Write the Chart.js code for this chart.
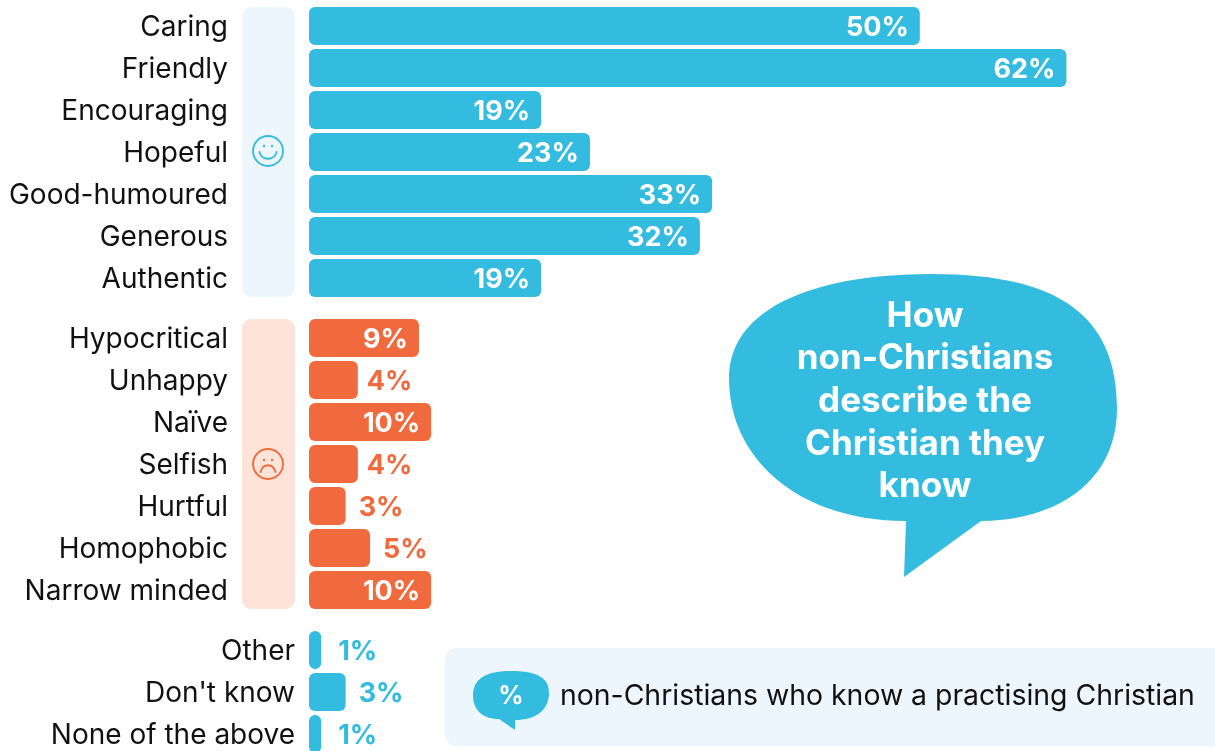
<!DOCTYPE html>
<html>
<head>
<meta charset="utf-8">
<title>How non-Christians describe the Christian they know</title>
<script src="https://cdn.jsdelivr.net/npm/chart.js@4"></script>
<style>
  html, body { margin: 0; padding: 0; background: #fff; overflow: hidden; }
  #page { position: relative; width: 1215px; height: 751px; overflow: hidden; font-family: Inter, sans-serif; }
  #page canvas { position: absolute; left: 0; }
  .panel { position: absolute; left: 242px; width: 53px; height: 290px; border-radius: 9px; }
  #panelGood { top: 7px; background: #edf6fc; }
  #panelBad { top: 319px; background: #fde3d8; }
  #note { position: absolute; left: 445px; top: 648px; width: 790px; height: 98px; border-radius: 12px; background: #edf6fc; }
  #art { position: absolute; left: 0; top: 0; }
</style>
</head>
<body>
<div id="page">
  <div class="panel" id="panelGood"></div>
  <div class="panel" id="panelBad"></div>
  <div id="note"></div>
  <canvas id="goodChart" width="1215" height="294" style="top:5px"></canvas>
  <canvas id="badChart" width="1215" height="294" style="top:317px"></canvas>
  <canvas id="otherChart" width="1215" height="126" style="top:629px"></canvas>
  <svg id="art" width="1215" height="751" xmlns="http://www.w3.org/2000/svg">
    <!-- smiley -->
    <g fill="none" stroke="#33bce0" stroke-width="1.8" stroke-linecap="round">
      <circle cx="268" cy="151" r="15"/>
      <path d="M259.5 152 C261 161 275 161 276.5 152"/>
    </g>
    <circle cx="264" cy="146" r="1.2" fill="#33bce0"/>
    <circle cx="272" cy="146" r="1.2" fill="#33bce0"/>
    <!-- sad face -->
    <g fill="none" stroke="#f16a3e" stroke-width="1.8" stroke-linecap="round">
      <circle cx="268" cy="464" r="15"/>
      <path d="M260.5 472 C263 463 273 463 275.5 472"/>
    </g>
    <circle cx="264" cy="460" r="1.2" fill="#f16a3e"/>
    <circle cx="272" cy="460" r="1.2" fill="#f16a3e"/>
    <!-- big speech bubble -->
    <path fill="#33bce0" d="M906 521 L904 577 L981 521 C1060 520 1117 480 1117 408 C1117 310 1050 274 932 274 C810 274 729 310 729 378 C729 460 800 521 906 521 Z"/>
    <g fill="#fff" font-family="Inter, sans-serif" font-weight="700" font-size="35" text-anchor="middle">
      <text x="925" y="327">How</text>
      <text x="925" y="369">non-Christians</text>
      <text x="925" y="412">describe the</text>
      <text x="925" y="455">Christian they</text>
      <text x="925" y="497">know</text>
    </g>
    <!-- legend bubble -->
    <path fill="#33bce0" d="M499 719 L515 730 L515 720 C536 720 549 710 549 693 C549 678 538 671 510 671 C484 671 473 680 473 696 C473 710 483 719 499 719 Z"/>
    <text x="511" y="704" fill="#fff" font-family="Inter, sans-serif" font-weight="700" font-size="25" text-anchor="middle">%</text>
    <text x="560" y="705" fill="#111" font-family="Inter, sans-serif" font-size="28.4">non-Christians who know a practising Christian</text>
  </svg>
</div>
<script>
const goodLabels = ["Caring", "Friendly", "Encouraging", "Hopeful", "Good-humoured", "Generous", "Authentic"];
const goodValues = [50, 62, 19, 23, 33, 32, 19];

const badLabels = ["Hypocritical", "Unhappy", "Naïve", "Selfish", "Hurtful", "Homophobic", "Narrow minded"];
const badValues = [9, 4, 10, 4, 3, 5, 10];

const otherLabels = ["Other", "Don't know", "None of the above"];
const otherValues = [1, 3, 1];

const BLUE = "#33bce0";
const ORANGE = "#f16a3e";
const INK = "#111";

// the bars too short to hold their number get it beside them instead
const insideFrom = 9;

const barLabels = {
  id: "barLabels",
  // axis text sits a little under the bar centre, scales draw between these two hooks
  beforeDraw(chart) {
    chart.ctx.save();
    chart.ctx.translate(0, 2);
  },
  beforeDatasetsDraw(chart) {
    chart.ctx.restore();
  },
  afterDatasetsDraw(chart) {
    const ctx = chart.ctx;
    const dataset = chart.data.datasets[0];
    const outsideGap = { 1: 17, 3: 13, 4: 9, 5: 13 };
    ctx.save();
    ctx.font = "700 27px Inter, sans-serif";
    ctx.textBaseline = "middle";
    chart.getDatasetMeta(0).data.forEach((bar, i) => {
      const value = dataset.data[i];
      const text = `${value}%`;
      if (value >= insideFrom) {
        ctx.fillStyle = "#fff";
        ctx.textAlign = "right";
        ctx.fillText(text, bar.x - 11, bar.y + 2);
      } else {
        ctx.fillStyle = dataset.backgroundColor;
        ctx.textAlign = "left";
        ctx.fillText(text, bar.x + outsideGap[value], bar.y + 2);
      }
    });
    ctx.restore();
  }
};

function makeBars(canvasId, labels, values, color, labelPadding) {
  return new Chart(document.getElementById(canvasId), {
    type: "bar",
    data: {
      labels,
      datasets: [{
        data: values,
        backgroundColor: color,
        borderRadius: 6,
        borderSkipped: false,
        categoryPercentage: 1,
        barPercentage: 0.905
      }]
    },
    options: {
      indexAxis: "y",
      responsive: false,
      animation: false,
      layout: { padding: { right: 2 } },
      plugins: {
        legend: { display: false },
        tooltip: { enabled: false }
      },
      scales: {
        x: { display: false, min: 0, max: 74 },
        y: {
          // tick padding also eats into the height otherwise
          afterFit: scale => {
            scale.width = 309;
            scale.paddingTop = 0;
            scale.paddingBottom = 0;
          },
          grid: { display: false, drawTicks: false },
          border: { display: false },
          ticks: {
            color: INK,
            padding: labelPadding,
            font: { family: "Inter, sans-serif", size: 28, weight: "400" }
          }
        }
      }
    },
    plugins: [barLabels]
  });
}

makeBars("goodChart", goodLabels, goodValues, BLUE, 81);
makeBars("badChart", badLabels, badValues, ORANGE, 81);
makeBars("otherChart", otherLabels, otherValues, BLUE, 14);
</script>
</body>
</html>
